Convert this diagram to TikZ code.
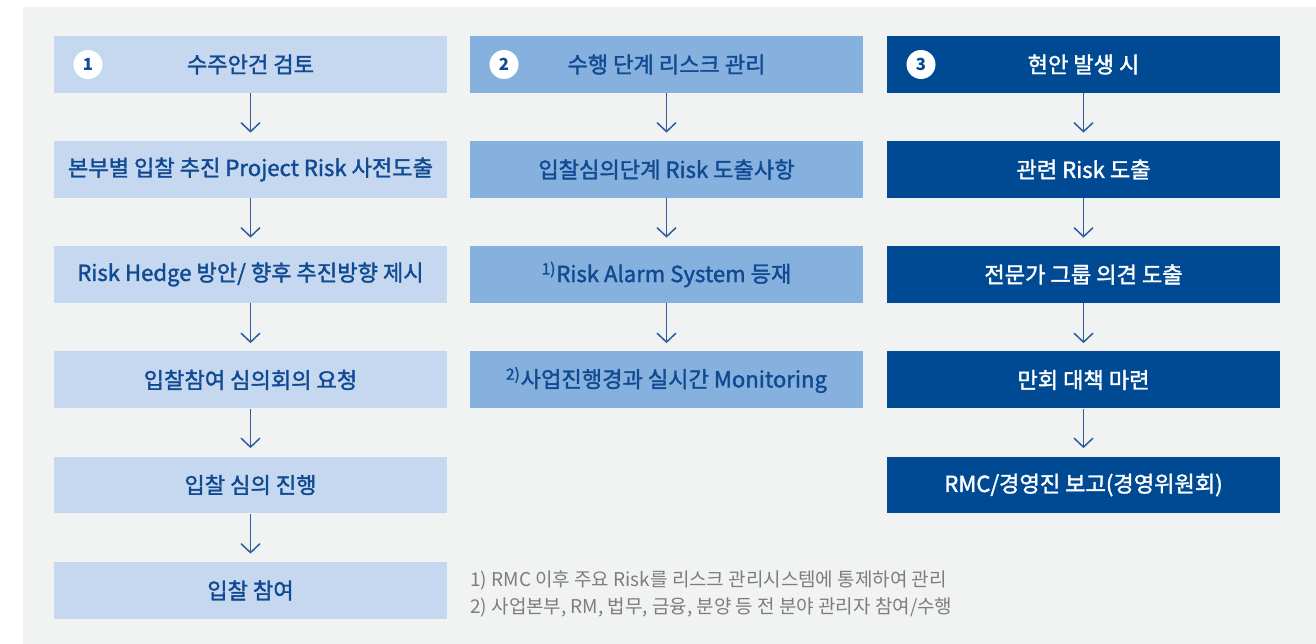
\documentclass[tikz,border=0pt]{standalone}
\usepackage{fontspec}
\setmainfont{Noto Sans CJK KR}
\newfontfamily\midfont{Noto Sans CJK KR}[FakeBold=1.6]
\usetikzlibrary{arrows.meta}
\definecolor{figBg}{RGB}{241,242,242}
\definecolor{figL}{RGB}{197,216,239}
\definecolor{figM}{RGB}{134,176,222}
\definecolor{figD}{RGB}{0,74,147}
\definecolor{figT}{RGB}{16,74,146}
\definecolor{figA}{RGB}{44,94,158}
\definecolor{figN}{RGB}{125,125,125}
\begin{document}
\begin{tikzpicture}[x=0.02cm,y=-0.02cm,
  box/.style={minimum width=7.86cm,minimum height=1.14cm,inner sep=0pt,font=\fontsize{12.6}{14}\midfont,text=figT},
  lbox/.style={box,fill=figL},
  mbox/.style={box,fill=figM},
  dbox/.style={box,fill=figD,text=white},
  num/.style={circle,fill=white,minimum size=0.58cm,inner sep=0pt,font=\fontsize{9.5}{10}\selectfont\bfseries},
  flow/.style={figA,line width=0.85pt,-{Straight Barb[length=0.18cm,width=0.38cm]},shorten >=0.16cm},
  note/.style={font=\fontsize{10.8}{12}\selectfont,text=figN,anchor=west,inner sep=0pt}]
\useasboundingbox (0,0) rectangle (1316,644);
\fill[figBg] (23,7) rectangle (1316,644);
\node[lbox] (a1) at (250.5,64.5) {수주안건 검토};
\node[lbox] (a2) at (250.5,169.5) {본부별 입찰 추진 Project Risk 사전도출};
\node[lbox] (a3) at (250.5,274.5) {Risk Hedge 방안/ 향후 추진방향 제시};
\node[lbox] (a4) at (250.5,380) {입찰참여 심의회의 요청};
\node[lbox] (a5) at (250.5,485) {입찰 심의 진행};
\node[lbox] (a6) at (250.5,590.5) {입찰 참여};
\node[mbox] (b1) at (666.5,64.5) {수행 단계 리스크 관리};
\node[mbox] (b2) at (666.5,169.5) {입찰심의단계 Risk 도출사항};
\node[mbox] (b3) at (666.5,274.5) {\textsuperscript{1)}Risk Alarm System 등재};
\node[mbox] (b4) at (666.5,380) {\textsuperscript{2)}사업진행경과 실시간 Monitoring};
\node[dbox] (c1) at (1083.5,64.5) {현안 발생 시};
\node[dbox] (c2) at (1083.5,169.5) {관련 Risk 도출};
\node[dbox] (c3) at (1083.5,274.5) {전문가 그룹 의견 도출};
\node[dbox] (c4) at (1083.5,380) {만회 대책 마련};
\node[dbox] (c5) at (1083.5,485) {RMC/경영진 보고(경영위원회)};
\node[num,text=figT] (n1) at (88,64.5) {1};
\node[num,text=figT] (n2) at (504,64.5) {2};
\node[num,text=figD] (n3) at (921,64.5) {3};
\foreach \p/\q in {a1/a2,a2/a3,a3/a4,a4/a5,a5/a6,b1/b2,b2/b3,b3/b4,c1/c2,c2/c3,c3/c4,c4/c5}
  \draw[flow] (\p) -- (\q);
\node[note] (f1) at (470,580) {1) RMC 이후 주요 Risk를 리스크 관리시스템에 통제하여 관리};
\node[note] (f2) at (470,607) {2) 사업본부, RM, 법무, 금융, 분양 등 전 분야 관리자 참여/수행};
\end{tikzpicture}
\end{document}
